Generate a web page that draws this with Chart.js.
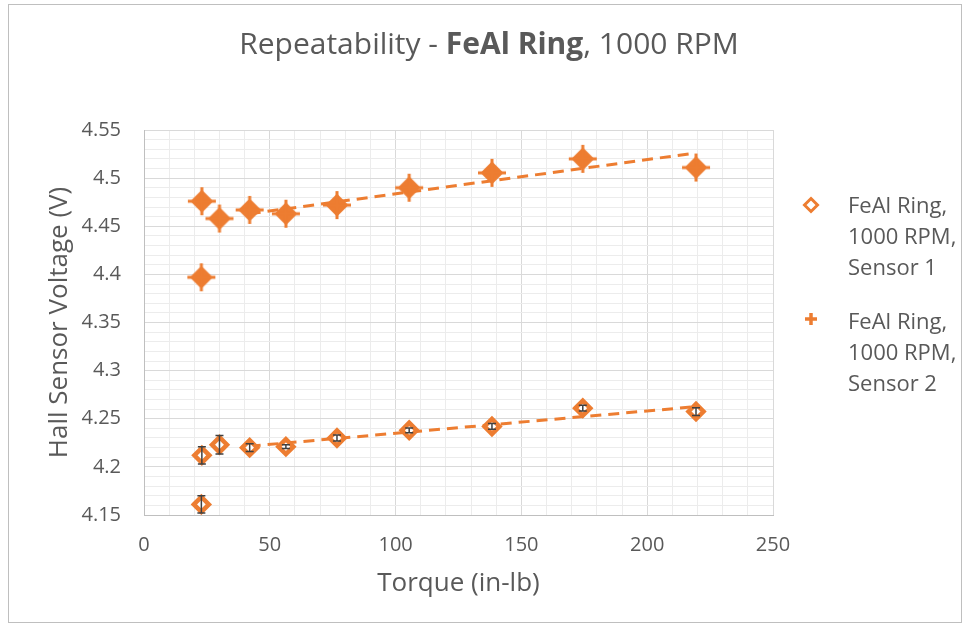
<!DOCTYPE html>
<html>
<head>
<meta charset="utf-8">
<script src="https://cdn.jsdelivr.net/npm/chart.js@4.4.1/dist/chart.umd.min.js"></script>
<style>
  body { margin: 0; background: #fff; font-family: 'Open Sans', sans-serif; }
  #wrap { position: relative; width: 962px; height: 624px; }
  #frame { position: absolute; left: 8px; top: 4px; width: 952px; height: 617px; border: 1px solid #bfbfbf; pointer-events: none; }
  #title { position: absolute; left: 8px; top: 28px; width: 962px; text-align: center; font-size: 30px; line-height: 30px; color: #595959; }
  .leg { position: absolute; left: 848px; font-size: 22px; line-height: 31px; color: #595959; white-space: nowrap; }
  .legIcon { position: absolute; left: 802px; }
</style>
</head>
<body>
<div id="wrap">
  <canvas id="c" width="962" height="624"></canvas>
  <div id="title">Repeatability - <b>FeAl Ring</b>, 1000 RPM</div>
  <svg class="legIcon" style="top:196px" width="18" height="18">
    <polygon points="9,2.5 15.5,9 9,15.5 2.5,9" fill="#fff" stroke="#ED7D31" stroke-width="3"/>
  </svg>
  <div class="leg" style="top:189px">FeAl Ring,<br>1000 RPM,<br>Sensor 1</div>
  <svg class="legIcon" style="top:310px" width="18" height="18">
    <path d="M9 3 V15 M3 9 H15" stroke="#ED7D31" stroke-width="3.5"/>
  </svg>
  <div class="leg" style="top:305px">FeAl Ring,<br>1000 RPM,<br>Sensor 2</div>
  <div id="frame"></div>
</div>
<script>
// data
const torque = [23, 22.8, 30, 42, 56.4, 76.7, 105.4, 138.3, 174.4, 219.4];
const sensor1 = [4.212, 4.161, 4.223, 4.220, 4.221, 4.230, 4.238, 4.242, 4.261, 4.2575];
const sensor1Err = [0.009, 0.009, 0.0095, 0.004, 0.002, 0.003, 0.0025, 0.003, 0.003, 0.004];
const sensor2 = [4.476, 4.397, 4.458, 4.467, 4.463, 4.472, 4.490, 4.5055, 4.520, 4.511];
const trendX = [42, 219];
const trend1 = [4.2215, 4.2625];
const trend2 = [4.463, 4.526];
const xMajor = [0, 50, 100, 150, 200, 250];
const yMajor = [4.15, 4.2, 4.25, 4.3, 4.35, 4.4, 4.45, 4.5, 4.55];
const xMinorStep = 10;
const yMinorStep = 0.01;

const orange = '#ED7D31';
const textGray = '#595959';

function allTicks(major, step) {
  const out = [];
  const n = Math.round((major[major.length - 1] - major[0]) / step);
  for (let i = 0; i <= n; i++) out.push({ value: +(major[0] + i * step).toFixed(4) });
  return out;
}
const isMajor = (major, v) => major.some(m => Math.abs(m - v) < 1e-6);

// filled diamond with a cross through it (sensor 2 marker)
function crossDiamond() {
  const c = document.createElement('canvas');
  c.width = 30; c.height = 30;
  const g = c.getContext('2d');
  g.fillStyle = orange;
  g.beginPath();
  g.moveTo(15, 3.5); g.lineTo(26.5, 15); g.lineTo(15, 26.5); g.lineTo(3.5, 15);
  g.closePath(); g.fill();
  g.strokeStyle = orange; g.lineWidth = 3;
  g.beginPath();
  g.moveTo(15, 1); g.lineTo(15, 29);
  g.moveTo(1, 15); g.lineTo(29, 15);
  g.stroke();
  return c;
}

// vertical error bars on sensor 1
const errorBars = {
  id: 'errorBars',
  afterDatasetsDraw(chart) {
    const meta = chart.getDatasetMeta(0);
    const y = chart.scales.y;
    const ctx = chart.ctx;
    ctx.save();
    ctx.strokeStyle = '#404040';
    ctx.lineWidth = 1.5;
    meta.data.forEach((pt, i) => {
      const top = y.getPixelForValue(sensor1[i] + sensor1Err[i]);
      const bot = y.getPixelForValue(sensor1[i] - sensor1Err[i]);
      ctx.beginPath();
      ctx.moveTo(pt.x, top); ctx.lineTo(pt.x, bot);
      ctx.moveTo(pt.x - 4, top); ctx.lineTo(pt.x + 4, top);
      ctx.moveTo(pt.x - 4, bot); ctx.lineTo(pt.x + 4, bot);
      ctx.stroke();
    });
    ctx.restore();
  }
};

const tickFont = { family: 'Open Sans', size: 20 };
const titleFont = { family: 'Open Sans', size: 26 };

new Chart(document.getElementById('c'), {
  type: 'scatter',
  data: {
    datasets: [
      {
        label: 'FeAl Ring, 1000 RPM, Sensor 1',
        data: torque.map((x, i) => ({ x, y: sensor1[i] })),
        pointStyle: 'rectRot',
        pointRadius: 7.5,
        pointBorderWidth: 4.5,
        borderColor: orange,
        backgroundColor: '#fff',
        order: 1
      },
      {
        label: 'FeAl Ring, 1000 RPM, Sensor 2',
        data: torque.map((x, i) => ({ x, y: sensor2[i] })),
        pointStyle: crossDiamond(),
        pointRadius: 12,
        borderColor: orange,
        backgroundColor: orange,
        order: 1
      },
      {
        label: 'trend 1',
        data: trendX.map((x, i) => ({ x, y: trend1[i] })),
        showLine: true,
        borderColor: orange,
        borderWidth: 3,
        borderDash: [11, 7],
        pointRadius: 0,
        order: 2
      },
      {
        label: 'trend 2',
        data: trendX.map((x, i) => ({ x, y: trend2[i] })),
        showLine: true,
        borderColor: orange,
        borderWidth: 3,
        borderDash: [11, 7],
        pointRadius: 0,
        order: 2
      }
    ]
  },
  options: {
    responsive: false,
    animation: false,
    events: [],
    layout: { padding: { top: 130, right: 189, bottom: 0, left: 0 } },
    plugins: {
      legend: { display: false },
      title: { display: false },
      tooltip: { enabled: false }
    },
    scales: {
      x: {
        type: 'linear',
        min: 0,
        max: 250,
        afterBuildTicks: s => { s.ticks = allTicks(xMajor, xMinorStep); },
        afterFit: s => { s.height = 109; },
        ticks: {
          autoSkip: false,
          maxRotation: 0,
          padding: 18,
          color: textGray,
          font: tickFont,
          callback: v => isMajor(xMajor, v) ? String(v) : ''
        },
        grid: {
          drawTicks: false,
          color: c => isMajor(xMajor, c.tick.value) ? '#d9d9d9' : '#ececec'
        },
        border: { color: '#bfbfbf' },
        title: {
          display: true,
          text: 'Torque (in-lb)',
          color: textGray,
          font: titleFont,
          padding: { top: 0, bottom: 25 }
        }
      },
      y: {
        min: 4.15,
        max: 4.55,
        afterBuildTicks: s => { s.ticks = allTicks(yMajor, yMinorStep); },
        afterFit: s => { s.width = 144; },
        ticks: {
          autoSkip: false,
          padding: 23,
          color: textGray,
          font: tickFont,
          callback: v => isMajor(yMajor, v) ? String(+v.toFixed(2)) : ''
        },
        grid: {
          drawTicks: false,
          color: c => isMajor(yMajor, c.tick.value) ? '#d9d9d9' : '#ececec'
        },
        border: { color: '#bfbfbf' },
        title: {
          display: true,
          text: 'Hall Sensor Voltage (V)',
          color: textGray,
          font: titleFont,
          padding: { top: 44, bottom: 0 }
        }
      }
    }
  },
  plugins: [errorBars]
});
</script>
</body>
</html>
